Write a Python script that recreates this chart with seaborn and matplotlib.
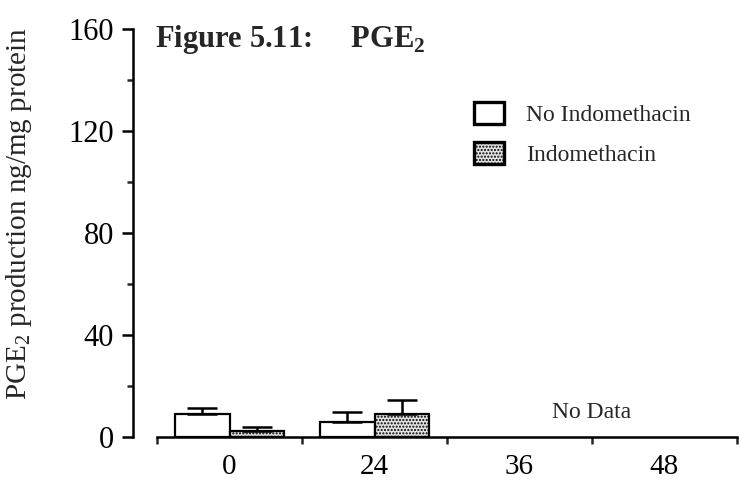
import matplotlib
matplotlib.use("Agg")
import matplotlib.pyplot as plt
from matplotlib.patches import Patch
from matplotlib.ticker import MultipleLocator, FixedLocator
import seaborn as sns
import pandas as pd
import numpy as np

# ---- data ----
time_points = ["0", "24", "36", "48"]
series_names = ["No Indomethacin", "Indomethacin"]
no_indo_mean = [9, 6]          # for 0 h and 24 h
no_indo_err = [2.5, 4]
indo_mean = [2.5, 9]
indo_err = [1.5, 5.5]
measured_times = ["0", "24"]
y_ticks = [0, 40, 80, 120, 160]

sns.set_theme(style="white")
plt.rcParams["font.family"] = ["Liberation Serif", "DejaVu Serif"]
plt.rcParams["mathtext.fontset"] = "custom"
plt.rcParams["mathtext.rm"] = "Liberation Serif"
plt.rcParams["mathtext.bf"] = "Liberation Serif:bold"
plt.rcParams["hatch.color"] = "#7a7a7a"
plt.rcParams["hatch.linewidth"] = 1.0

STIPPLE = "#e2e2e2"

df = pd.DataFrame({
    "time": measured_times * 2,
    "treatment": [series_names[0]] * 2 + [series_names[1]] * 2,
    "value": no_indo_mean + indo_mean,
    "err": no_indo_err + indo_err,
})

fig = plt.figure(figsize=(7.41, 4.84), dpi=100)
W, H = 741, 484
ax = fig.add_axes([157 / W, (H - 437) / H, (737 - 157) / W, (437 - 29) / H])

sns.barplot(data=df, x="time", y="value", hue="treatment", order=time_points,
            hue_order=series_names, errorbar=None, width=0.75,
            palette=["white", STIPPLE], edgecolor="black", linewidth=1.6,
            legend=False, ax=ax, saturation=1)

# stipple on the indomethacin bars
for p in ax.patches:
    if p.get_width() > 0 and tuple(np.round(p.get_facecolor()[:3], 2)) != (1.0, 1.0, 1.0):
        p.set_hatch(".....")

# upward-only error bars
for _, row in df.iterrows():
    xi = time_points.index(row["time"])
    hi = series_names.index(row["treatment"])
    xc = xi + (-0.1875 if hi == 0 else 0.1875)
    ax.errorbar(xc, row["value"], yerr=[[0], [row["err"]]], fmt="none",
                ecolor="black", elinewidth=1.8, capsize=11, capthick=1.8, zorder=3)

ax.text(2.5, 9.5, "No Data", ha="center", va="center", fontsize=17)

ax.set_ylim(0, 160)
ax.set_xlim(-0.5, 3.5)
ax.yaxis.set_major_locator(FixedLocator(y_ticks))
ax.yaxis.set_minor_locator(MultipleLocator(20))
ax.set_xticks(range(len(time_points)))
ax.set_xticklabels(time_points)
ax.xaxis.set_minor_locator(FixedLocator(np.arange(-0.5, 4.0, 1.0)))

for s in ["top", "right"]:
    ax.spines[s].set_visible(False)
ax.spines["left"].set_position(("outward", 17))
for s in ["left", "bottom"]:
    ax.spines[s].set_linewidth(1.8)
    ax.spines[s].set_color("black")

ax.tick_params(axis="y", which="major", direction="out", length=8, width=1.8,
               labelsize=22, pad=6, left=True, colors="black")
ax.tick_params(axis="y", which="minor", direction="out", length=4, width=1.8, left=True)
ax.tick_params(axis="x", which="major", length=0, labelsize=21, pad=12, colors="black")
ax.tick_params(axis="x", which="minor", direction="out", length=5, width=1.8, bottom=True)

ax.set_xlabel("")
ax.set_ylabel("")
fig.text(19 / W, 1 - 214 / H, r"PGE$_\mathregular{2}$ production ng/mg protein",
         fontsize=21, rotation=90, ha="center", va="center")

handles = [Patch(facecolor="white", edgecolor="black", linewidth=2.4),
           Patch(facecolor=STIPPLE, edgecolor="black", linewidth=2.4, hatch=".....")]
ax.legend(handles, series_names, loc="upper left", bbox_to_anchor=(0.547, 0.822),
          frameon=False, fontsize=17, handlelength=1.25, handleheight=1.05,
          handletextpad=0.95, labelspacing=0.7, borderpad=0, borderaxespad=0)

fig.text(155 / W, 1 - 47 / H, r"Figure 5.11:     PGE$_\mathbf{2}$", fontsize=22,
         fontweight="bold", ha="left", va="baseline")

fig.savefig("out.png", dpi=100, facecolor="white")
